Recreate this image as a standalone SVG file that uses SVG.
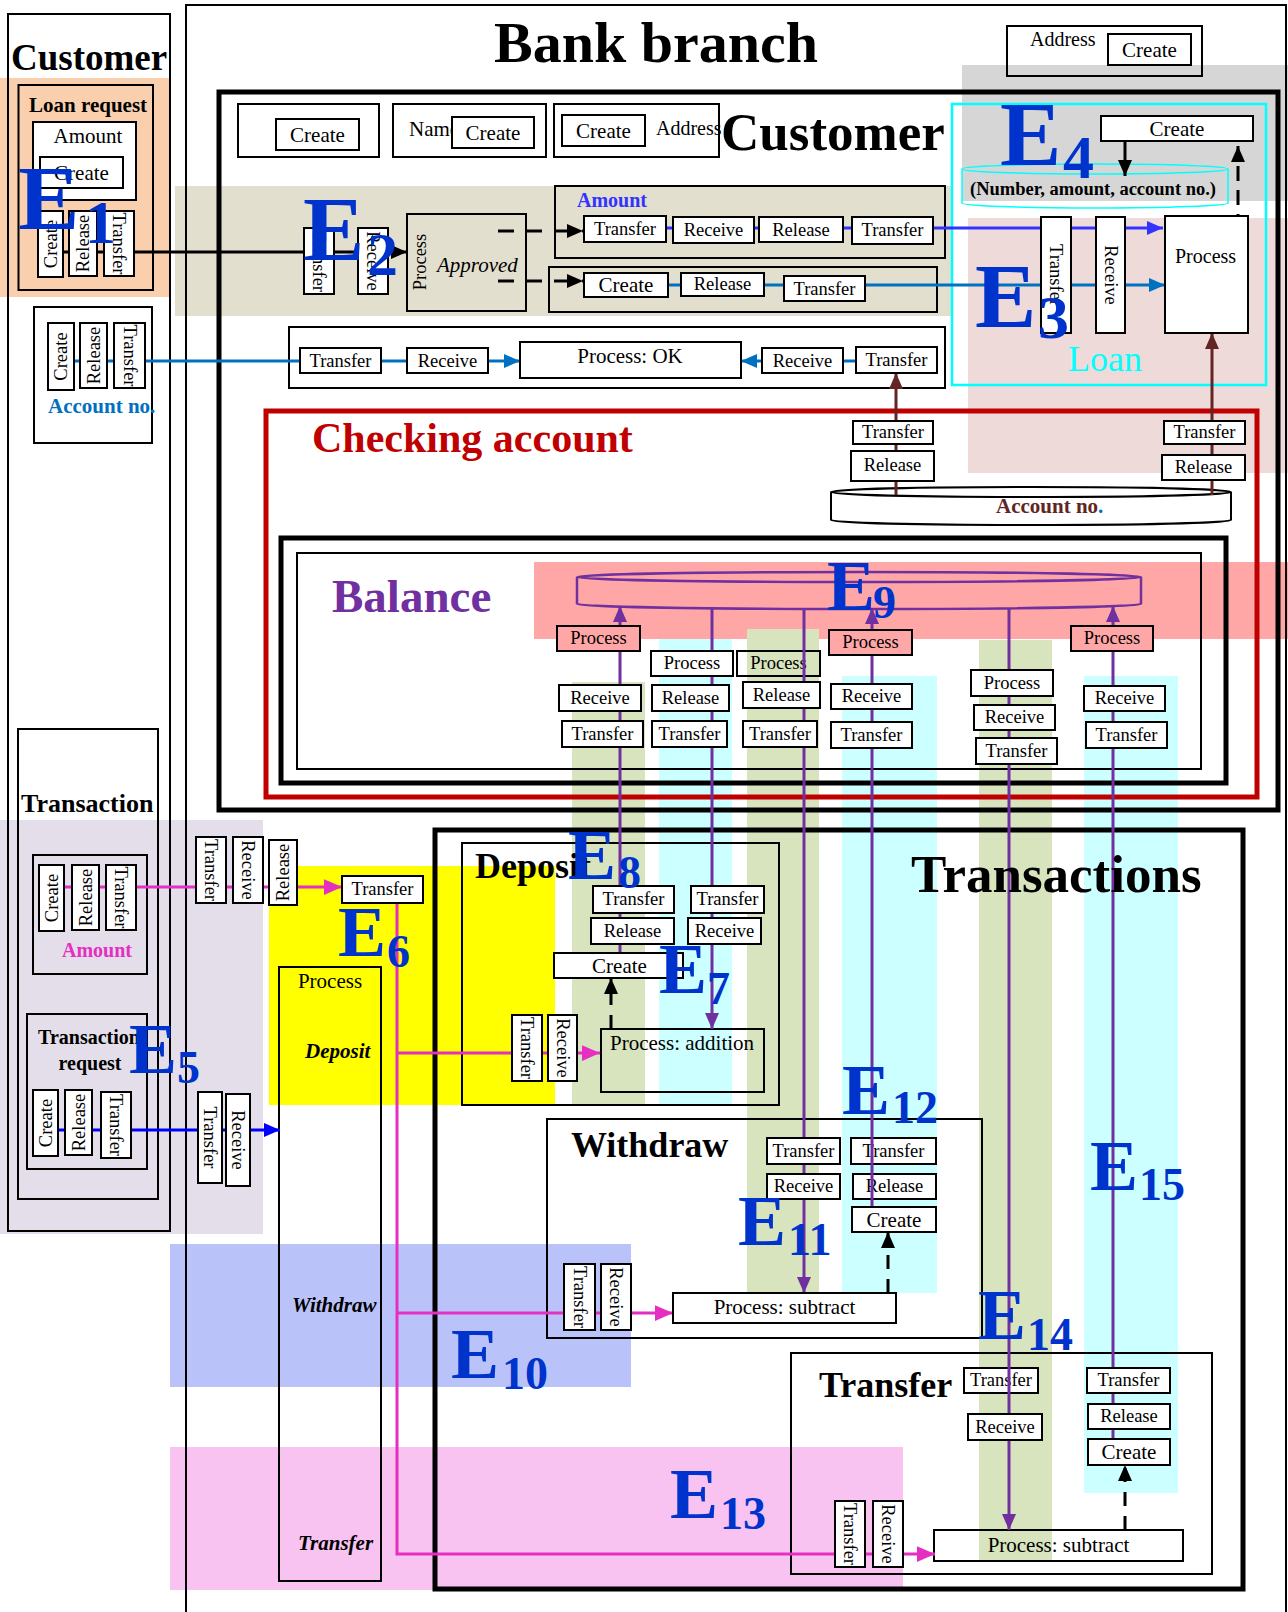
<svg xmlns="http://www.w3.org/2000/svg" width="1288" height="1612" viewBox="0 0 1288 1612">
<style>
.b{fill:#fff;stroke:#000;stroke-width:2}
.n{fill:none;stroke:#000;stroke-width:2}
.t{font-family:"Liberation Serif","Times New Roman",serif;fill:#000}
.c{text-anchor:middle}
.f18{font-size:18.5px}
.f20{font-size:20px}
.f21{font-size:21px}
.bd{font-weight:bold}
.it{font-style:italic}
.E{font-family:"Liberation Serif","Times New Roman",serif;font-weight:bold;fill:#0033CC}
.ln{fill:none;stroke-width:3}
.pk{fill:#FFA7A7;stroke:#000;stroke-width:2}
</style>
<defs>
<marker id="aK" viewBox="0 0 16 14" refX="16" refY="7" markerWidth="16" markerHeight="14" markerUnits="userSpaceOnUse" orient="auto"><path d="M0,0L16,7L0,14z" fill="#000"/></marker>
<marker id="aB" viewBox="0 0 16 14" refX="16" refY="7" markerWidth="16" markerHeight="14" markerUnits="userSpaceOnUse" orient="auto"><path d="M0,0L16,7L0,14z" fill="#3333FF"/></marker>
<marker id="aC" viewBox="0 0 16 14" refX="16" refY="7" markerWidth="16" markerHeight="14" markerUnits="userSpaceOnUse" orient="auto"><path d="M0,0L16,7L0,14z" fill="#0070C0"/></marker>
<marker id="aR" viewBox="0 0 16 14" refX="16" refY="7" markerWidth="16" markerHeight="14" markerUnits="userSpaceOnUse" orient="auto"><path d="M0,0L16,7L0,14z" fill="#632523"/></marker>
<marker id="aP" viewBox="0 0 16 14" refX="16" refY="7" markerWidth="16" markerHeight="14" markerUnits="userSpaceOnUse" orient="auto"><path d="M0,0L16,7L0,14z" fill="#7030A0"/></marker>
<marker id="aM" viewBox="0 0 16 14" refX="16" refY="7" markerWidth="18" markerHeight="16" markerUnits="userSpaceOnUse" orient="auto"><path d="M0,0L16,7L0,14z" fill="#E52FC2"/></marker>
<marker id="aU" viewBox="0 0 16 14" refX="16" refY="7" markerWidth="16" markerHeight="14" markerUnits="userSpaceOnUse" orient="auto"><path d="M0,0L16,7L0,14z" fill="#0000FF"/></marker>
</defs>
<rect width="1288" height="1612" fill="#fff"/>

<g id="backgrounds">
<rect x="0" y="78" width="170" height="219" fill="#F9CFAE"/>
<rect x="175" y="186" width="777" height="130" fill="#E2DFCE"/>
<rect x="962" y="65" width="326" height="136" fill="#D6D6D6"/>
<rect x="968" y="218" width="320" height="255" fill="#EEDAD9"/>
<rect x="534" y="562" width="754" height="77" fill="#FFA7A7"/>
<rect x="572" y="682" width="73" height="423" fill="#D7E4BD"/>
<rect x="659" y="639" width="73" height="466" fill="#CCFFFF"/>
<rect x="747" y="629" width="72" height="664" fill="#D7E4BD"/>
<rect x="842" y="676" width="95" height="617" fill="#CCFFFF"/>
<rect x="979" y="640" width="73" height="920" fill="#D7E4BD"/>
<rect x="1084" y="676" width="94" height="817" fill="#CCFFFF"/>
<rect x="0" y="820" width="263" height="414" fill="#E3DEE9"/>
<rect x="269" y="866" width="286" height="239" fill="#FFFF00"/>
<rect x="170" y="1244" width="461" height="143" fill="#BAC3F9"/>
<rect x="170" y="1447" width="733" height="143" fill="#F8C2F1"/>
</g>

<g id="frames">
<rect class="n" x="8" y="14" width="162" height="1217"/>
<rect class="n" x="186" y="5" width="1100" height="1620"/>
<rect class="n" x="18.5" y="85" width="134.5" height="205"/>
<rect class="n" x="34" y="307" width="118" height="136"/>
<rect class="n" x="219" y="92" width="1059" height="718" style="stroke-width:5"/>
<rect class="n" x="238" y="104" width="141" height="53"/>
<rect class="n" x="393" y="104" width="153" height="53"/>
<rect class="n" x="554" y="104" width="165" height="53"/>
<rect class="n" x="1007" y="26" width="195" height="50"/>
<rect class="n" x="555" y="186" width="390" height="72"/>
<rect class="n" x="549" y="267" width="388" height="45"/>
<rect class="n" x="289" y="327" width="656" height="61"/>
<rect class="n" x="407" y="214" width="119" height="97"/>
<rect x="952" y="104" width="314" height="281" fill="none" stroke="#00FFFF" stroke-width="2.5"/>
<rect x="266" y="411" width="991" height="386" fill="none" stroke="#C00000" stroke-width="5"/>
<rect class="n" x="281" y="538" width="945" height="245" style="stroke-width:5"/>
<rect class="n" x="297" y="553" width="904" height="216"/>
<rect class="n" x="18" y="729" width="140" height="470"/>
<rect class="n" x="33" y="855" width="114" height="119"/>
<rect class="n" x="27" y="1014" width="120" height="155"/>
<rect class="n" x="435" y="830" width="808" height="759" style="stroke-width:5"/>
<rect class="n" x="462" y="843" width="317" height="262"/>
<rect class="n" x="547" y="1119" width="435" height="219"/>
<rect class="n" x="791" y="1353" width="421" height="221"/>
<rect class="n" x="279" y="967" width="102" height="614"/>
<rect class="n" x="601" y="1029" width="163" height="63"/>
<rect class="n" x="934" y="1530" width="249" height="31"/>
<path d="M962,169A133,5 0 0 1 1228,169A133,5 0 0 1 962,169ZM962,169V203A133,5 0 0 0 1228,203V169" fill="none" stroke="#00FFFF" stroke-width="1.5"/>
<path d="M577,577A282,5 0 0 1 1141,577A282,5 0 0 1 577,577ZM577,577V604A282,5 0 0 0 1141,604V577" fill="none" stroke="#7030A0" stroke-width="2.5"/>
<path d="M831,492V520A200,5 0 0 0 1231,520V492" fill="#fff" stroke="#000" stroke-width="2"/>
<ellipse cx="1031" cy="492" rx="200" ry="5" fill="#fff" stroke="#000" stroke-width="2"/>
</g>

<g id="nodes-under">
<g id="balC-process"><rect class="n" x="737" y="651" width="83" height="25"/><text class="t f18 c" x="778.5" y="669">Process</text></g>
<g id="wdr-transfer2"><rect class="b" x="851" y="1138" width="85" height="26"/><text class="t f18 c" x="893.5" y="1157">Transfer</text></g>
<g id="wdr-release"><rect class="b" x="853" y="1174" width="83" height="25"/><text class="t f18 c" x="894.5" y="1192">Release</text></g>
<g id="trf-transfer1"><rect class="b" x="964" y="1368" width="74" height="25"/><text class="t f18 c" x="1001" y="1386">Transfer</text></g>
</g>

<g id="connectors">
<path class="ln" d="M63,252H407" stroke="#000" stroke-width="3.5" marker-end="url(#aK)"/>
<path class="ln" d="M74,361H520" stroke="#0070C0" marker-end="url(#aC)"/>
<path class="ln" d="M856,361H741" stroke="#0070C0" marker-end="url(#aC)"/>
<path class="ln" d="M584,228H1163" stroke="#3333FF" marker-end="url(#aB)"/>
<path class="ln" d="M584,285H1165" stroke="#0070C0" marker-end="url(#aC)"/>
<path class="ln" d="M498,231H583" stroke="#000" stroke-width="4" stroke-dasharray="16 12" marker-end="url(#aK)"/>
<path class="ln" d="M498,281H583" stroke="#000" stroke-width="4" stroke-dasharray="16 12" marker-end="url(#aK)"/>
<path class="ln" d="M1125,141V176" stroke="#000" marker-end="url(#aK)"/>
<path class="ln" d="M1238,253V146" stroke="#000" stroke-width="4" stroke-dasharray="15 9" marker-end="url(#aK)"/>
<path class="ln" d="M896,495V373" stroke="#632523" stroke-width="3.5" marker-end="url(#aR)"/>
<path class="ln" d="M1212,495V333" stroke="#632523" stroke-width="3.5" marker-end="url(#aR)"/>
<path class="ln" d="M620,953V606" stroke="#7030A0" marker-end="url(#aP)"/>
<path class="ln" d="M712,609V1029" stroke="#7030A0" marker-end="url(#aP)"/>
<path class="ln" d="M804,609V1293" stroke="#7030A0" marker-end="url(#aP)"/>
<path class="ln" d="M872,1207V608" stroke="#7030A0" marker-end="url(#aP)"/>
<path class="ln" d="M1009,609V1530" stroke="#7030A0" marker-end="url(#aP)"/>
<path class="ln" d="M1113,1439V606" stroke="#7030A0" marker-end="url(#aP)"/>
<path class="ln" d="M64,887H342" stroke="#E52FC2" stroke-width="4" marker-end="url(#aM)"/>
<path class="ln" d="M397,903V1554H935" stroke="#E52FC2" stroke-width="4" marker-end="url(#aM)"/>
<path class="ln" d="M397,1053H600" stroke="#E52FC2" stroke-width="4" marker-end="url(#aM)"/>
<path class="ln" d="M397,1313H673" stroke="#E52FC2" stroke-width="4" marker-end="url(#aM)"/>
<path class="ln" d="M58,1130H280" stroke="#0000FF" marker-end="url(#aU)"/>
<path class="ln" d="M611,1029V978" stroke="#000" stroke-width="4" stroke-dasharray="14 10" marker-end="url(#aK)"/>
<path class="ln" d="M888,1293V1232" stroke="#000" stroke-width="4" stroke-dasharray="14 10" marker-end="url(#aK)"/>
<path class="ln" d="M1125,1530V1465" stroke="#000" stroke-width="4" stroke-dasharray="14 10" marker-end="url(#aK)"/>
</g>

<g id="titles">
<text class="t bd" x="11" y="70" style="font-size:37px">Customer</text>
<text class="t bd" x="494" y="62" style="font-size:58px">Bank branch</text>
<text class="t bd f21" x="29" y="112">Loan request</text>
<text class="t bd f21" x="48" y="413" fill="#0070C0" style="fill:#0070C0">Account no.</text>
<text class="t f21" x="409" y="136">Name</text>
<text class="t f20" x="656" y="135">Address</text>
<text class="t bd" x="721" y="150" style="font-size:53px">Customer</text>
<text class="t f20" x="1030" y="46">Address</text>
<text class="t bd f20" x="577" y="207" style="fill:#3333FF">Amount</text>
<text class="t it f21" x="437" y="272">Approved</text>
<text class="t f18 c" transform="translate(420,262) rotate(-90)" y="6">Process</text>
<text class="t bd" x="970" y="195" style="font-size:18.5px">(Number, amount, account no.)</text>
<text class="t" x="1068" y="371" style="font-size:36px;fill:#00FFFF">Loan</text>
<text class="t bd" x="312" y="452" style="font-size:42px;fill:#C00000">Checking account</text>
<text class="t bd f21" x="996" y="513" style="fill:#632523">Account no<tspan style="fill:#0070C0">.</tspan></text>
<text class="t bd" x="332" y="612" style="font-size:47px;fill:#7030A0">Balance</text>
<text class="t bd" x="21" y="812" style="font-size:26px">Transaction</text>
<text class="t bd f20" x="62" y="957" style="fill:#E52FC2">Amount</text>
<text class="t bd f20 c" x="89" y="1044">Transaction</text>
<text class="t bd f20 c" x="90" y="1070">request</text>
<text class="t bd" x="911" y="892" style="font-size:53px">Transactions</text>
<text class="t bd" x="475" y="878" style="font-size:36px">Deposit</text>
<text class="t bd" x="571" y="1157" style="font-size:36px">Withdraw</text>
<text class="t bd" x="819" y="1397" style="font-size:36px">Transfer</text>
<text class="t f21 c" x="330" y="988">Process</text>
<text class="t bd it f21" x="305" y="1058">Deposit</text>
<text class="t bd it f21" x="292" y="1312">Withdraw</text>
<text class="t bd it f21" x="298" y="1550">Transfer</text>
<text class="t f21" x="610" y="1050">Process: addition</text>
<text class="t f21 c" x="1058.5" y="1552">Process: subtract</text>
</g>

<g id="nodes">
<g id="lr-amount"><rect class="b" x="33" y="122" width="103" height="78"/><text class="t f21 c" x="88" y="143">Amount</text></g>
<g id="lr-create"><rect class="b" x="40" y="157" width="83" height="31"/><text class="t f21 c" x="81.5" y="180">Create</text></g>
<g id="lr-v-create"><rect class="b" x="38" y="211" width="25" height="66"/><text class="t f18 c" transform="translate(50.5,244) rotate(-90)" y="6">Create</text></g>
<g id="lr-v-release"><rect class="b" x="69" y="211" width="28" height="65"/><text class="t f18 c" transform="translate(83,243.5) rotate(-90)" y="6">Release</text></g>
<g id="lr-v-transfer"><rect class="b" x="104" y="211" width="30" height="65"/><text class="t f18 c" transform="translate(119,243.5) rotate(90)" y="6">Transfer</text></g>

<g id="an-create"><rect class="b" x="48" y="323" width="26" height="67"/><text class="t f18 c" transform="translate(61,356.5) rotate(-90)" y="6">Create</text></g>
<g id="an-release"><rect class="b" x="80" y="323" width="27" height="65"/><text class="t f18 c" transform="translate(93.5,355.5) rotate(-90)" y="6">Release</text></g>
<g id="an-transfer"><rect class="b" x="114" y="323" width="31" height="65"/><text class="t f18 c" transform="translate(129.5,355.5) rotate(90)" y="6">Transfer</text></g>

<g id="cu-create1"><rect class="b" x="276" y="119" width="83" height="31"/><text class="t f21 c" x="317.5" y="142">Create</text></g>
<g id="cu-create2"><rect class="b" x="452" y="117" width="82" height="31"/><text class="t f21 c" x="493" y="140">Create</text></g>
<g id="cu-create3"><rect class="b" x="562" y="115" width="83" height="31"/><text class="t f21 c" x="603.5" y="138">Create</text></g>
<g id="bb-create"><rect class="b" x="1108" y="34" width="83" height="31"/><text class="t f21 c" x="1149.5" y="57">Create</text></g>

<g id="e2-transfer"><rect class="b" x="304" y="228" width="30" height="66"/><text class="t f18 c" transform="translate(319,261) rotate(90)" y="6">Transfer</text></g>
<g id="e2-receive"><rect class="b" x="358" y="228" width="30" height="66"/><text class="t f18 c" transform="translate(373,261) rotate(90)" y="6">Receive</text></g>

<g id="am-transfer1"><rect class="b" x="584" y="216" width="82" height="26"/><text class="t f18 c" x="625" y="235">Transfer</text></g>
<g id="am-receive"><rect class="b" x="673" y="217" width="81" height="26"/><text class="t f18 c" x="713.5" y="236">Receive</text></g>
<g id="am-release"><rect class="b" x="759" y="217" width="84" height="25"/><text class="t f18 c" x="801" y="236">Release</text></g>
<g id="am-transfer2"><rect class="b" x="852" y="217" width="81" height="27"/><text class="t f18 c" x="892.5" y="236">Transfer</text></g>

<g id="cc-create"><rect class="b" x="584" y="273" width="84" height="24"/><text class="t f21 c" x="626" y="292">Create</text></g>
<g id="cc-release"><rect class="b" x="681" y="273" width="83" height="23"/><text class="t f18 c" x="722.5" y="290">Release</text></g>
<g id="cc-transfer"><rect class="b" x="784" y="276" width="81" height="25"/><text class="t f18 c" x="824.5" y="295">Transfer</text></g>

<g id="ok-transfer1"><rect class="b" x="300" y="348" width="81" height="25"/><text class="t f18 c" x="340.5" y="367">Transfer</text></g>
<g id="ok-receive1"><rect class="b" x="407" y="348" width="81" height="25"/><text class="t f18 c" x="447.5" y="367">Receive</text></g>
<g id="ok-process"><rect class="b" x="520" y="342" width="221" height="36"/><text class="t f21 c" x="630" y="363">Process: OK</text></g>
<g id="ok-receive2"><rect class="b" x="762" y="348" width="81" height="25"/><text class="t f18 c" x="802.5" y="367">Receive</text></g>
<g id="ok-transfer2"><rect class="b" x="856" y="347" width="81" height="26"/><text class="t f18 c" x="896.5" y="366">Transfer</text></g>

<g id="ln-create"><rect class="b" x="1101" y="116" width="152" height="25"/><text class="t f21 c" x="1177" y="136">Create</text></g>
<g id="ln-transfer"><rect class="b" x="1041" y="217" width="30" height="116"/><text class="t f18 c" transform="translate(1056,275) rotate(90)" y="6">Transfer</text></g>
<g id="ln-receive"><rect class="b" x="1096" y="217" width="29" height="116"/><text class="t f18 c" transform="translate(1110.5,275) rotate(90)" y="6">Receive</text></g>
<g id="ln-process"><rect class="b" x="1165" y="216" width="83" height="117"/><text class="t f20" x="1175" y="263">Process</text></g>

<g id="ck-transfer1"><rect class="b" x="853" y="421" width="80" height="23"/><text class="t f18 c" x="893" y="438">Transfer</text></g>
<g id="ck-release1"><rect class="b" x="851" y="451" width="83" height="30"/><text class="t f18 c" x="892.5" y="471">Release</text></g>
<g id="ck-transfer2"><rect class="b" x="1164" y="421" width="81" height="23"/><text class="t f18 c" x="1204.5" y="438">Transfer</text></g>
<g id="ck-release2"><rect class="b" x="1162" y="455" width="83" height="25"/><text class="t f18 c" x="1203.5" y="473">Release</text></g>

<g id="balA-process"><rect class="pk" x="557" y="626" width="83" height="25"/><text class="t f18 c" x="598.5" y="644">Process</text></g>
<g id="balA-receive"><rect class="b" x="559" y="685" width="82" height="26"/><text class="t f18 c" x="600" y="704">Receive</text></g>
<g id="balA-transfer"><rect class="b" x="562" y="721" width="81" height="26"/><text class="t f18 c" x="602.5" y="740">Transfer</text></g>
<g id="balB-process"><rect class="b" x="651" y="651" width="82" height="25"/><text class="t f18 c" x="692" y="669">Process</text></g>
<g id="balB-release"><rect class="b" x="652" y="685" width="77" height="26"/><text class="t f18 c" x="690.5" y="704">Release</text></g>
<g id="balB-transfer"><rect class="b" x="652" y="721" width="75" height="26"/><text class="t f18 c" x="689.5" y="740">Transfer</text></g>
<g id="balC-release"><rect class="b" x="743" y="682" width="77" height="26"/><text class="t f18 c" x="781.5" y="701">Release</text></g>
<g id="balC-transfer"><rect class="b" x="743" y="721" width="74" height="26"/><text class="t f18 c" x="780" y="740">Transfer</text></g>
<g id="balD-process"><rect class="pk" x="829" y="630" width="83" height="25"/><text class="t f18 c" x="870.5" y="648">Process</text></g>
<g id="balD-receive"><rect class="b" x="831" y="684" width="81" height="25"/><text class="t f18 c" x="871.5" y="702">Receive</text></g>
<g id="balD-transfer"><rect class="b" x="831" y="722" width="81" height="26"/><text class="t f18 c" x="871.5" y="741">Transfer</text></g>
<g id="balE-process"><rect class="b" x="971" y="670" width="82" height="26"/><text class="t f18 c" x="1012" y="689">Process</text></g>
<g id="balE-receive"><rect class="b" x="974" y="705" width="81" height="25"/><text class="t f18 c" x="1014.5" y="723">Receive</text></g>
<g id="balE-transfer"><rect class="b" x="976" y="738" width="81" height="26"/><text class="t f18 c" x="1016.5" y="757">Transfer</text></g>
<g id="balF-process"><rect class="pk" x="1071" y="626" width="82" height="25"/><text class="t f18 c" x="1112" y="644">Process</text></g>
<g id="balF-receive"><rect class="b" x="1084" y="686" width="81" height="25"/><text class="t f18 c" x="1124.5" y="704">Receive</text></g>
<g id="balF-transfer"><rect class="b" x="1086" y="722" width="81" height="26"/><text class="t f18 c" x="1126.5" y="741">Transfer</text></g>

<g id="ta-create"><rect class="b" x="39" y="865" width="25" height="66"/><text class="t f18 c" transform="translate(51.5,898) rotate(-90)" y="6">Create</text></g>
<g id="ta-release"><rect class="b" x="72" y="865" width="27" height="65"/><text class="t f18 c" transform="translate(85.5,897.5) rotate(-90)" y="6">Release</text></g>
<g id="ta-transfer"><rect class="b" x="106" y="865" width="30" height="65"/><text class="t f18 c" transform="translate(121,897.5) rotate(90)" y="6">Transfer</text></g>
<g id="tr-create"><rect class="b" x="33" y="1090" width="25" height="66"/><text class="t f18 c" transform="translate(45.5,1123) rotate(-90)" y="6">Create</text></g>
<g id="tr-release"><rect class="b" x="65" y="1090" width="27" height="65"/><text class="t f18 c" transform="translate(78.5,1122.5) rotate(-90)" y="6">Release</text></g>
<g id="tr-transfer"><rect class="b" x="101" y="1092" width="30" height="66"/><text class="t f18 c" transform="translate(116,1125) rotate(90)" y="6">Transfer</text></g>
<g id="e6-v-transfer"><rect class="b" x="196" y="837" width="30" height="66"/><text class="t f18 c" transform="translate(211,870) rotate(90)" y="6">Transfer</text></g>
<g id="e6-v-receive"><rect class="b" x="233" y="837" width="30" height="66"/><text class="t f18 c" transform="translate(248,870) rotate(90)" y="6">Receive</text></g>
<g id="e6-v-release"><rect class="b" x="269" y="840" width="28" height="65"/><text class="t f18 c" transform="translate(283,872.5) rotate(-90)" y="6">Release</text></g>
<g id="e5-v-transfer"><rect class="b" x="198" y="1092" width="24" height="91"/><text class="t f18 c" transform="translate(210,1137.5) rotate(90)" y="6">Transfer</text></g>
<g id="e5-v-receive"><rect class="b" x="226" y="1094" width="24" height="92"/><text class="t f18 c" transform="translate(238,1140) rotate(90)" y="6">Receive</text></g>
<g id="e6-transfer"><rect class="b" x="342" y="876" width="81" height="27"/><text class="t f18 c" x="382.5" y="895">Transfer</text></g>

<g id="dep-transfer1"><rect class="b" x="593" y="886" width="81" height="27"/><text class="t f18 c" x="633.5" y="905">Transfer</text></g>
<g id="dep-release"><rect class="b" x="591" y="918" width="83" height="26"/><text class="t f18 c" x="632.5" y="937">Release</text></g>
<g id="dep-transfer2"><rect class="b" x="691" y="886" width="73" height="27"/><text class="t f18 c" x="727.5" y="905">Transfer</text></g>
<g id="dep-receive"><rect class="b" x="688" y="918" width="73" height="26"/><text class="t f18 c" x="724.5" y="937">Receive</text></g>
<g id="dep-create"><rect class="b" x="554" y="953" width="129" height="25"/><text class="t f21 c" x="619.5" y="973">Create</text></g>
<g id="dep-v-transfer"><rect class="b" x="512" y="1015" width="30" height="66"/><text class="t f18 c" transform="translate(527,1048) rotate(90)" y="6">Transfer</text></g>
<g id="dep-v-receive"><rect class="b" x="548" y="1015" width="29" height="66"/><text class="t f18 c" transform="translate(562.5,1048) rotate(90)" y="6">Receive</text></g>

<g id="wdr-transfer1"><rect class="b" x="767" y="1138" width="73" height="26"/><text class="t f18 c" x="803.5" y="1157">Transfer</text></g>
<g id="wdr-receive"><rect class="b" x="767" y="1174" width="73" height="25"/><text class="t f18 c" x="803.5" y="1192">Receive</text></g>
<g id="wdr-create"><rect class="b" x="852" y="1207" width="84" height="25"/><text class="t f21 c" x="894" y="1227">Create</text></g>
<g id="wdr-v-transfer"><rect class="b" x="564" y="1264" width="31" height="66"/><text class="t f18 c" transform="translate(579.5,1297) rotate(90)" y="6">Transfer</text></g>
<g id="wdr-v-receive"><rect class="b" x="601" y="1264" width="30" height="66"/><text class="t f18 c" transform="translate(616,1297) rotate(90)" y="6">Receive</text></g>
<g id="wdr-process"><rect class="b" x="673" y="1293" width="223" height="30"/><text class="t f21 c" x="784.5" y="1314">Process: subtract</text></g>

<g id="trf-receive"><rect class="b" x="968" y="1414" width="74" height="26"/><text class="t f18 c" x="1005" y="1433">Receive</text></g>
<g id="trf-transfer2"><rect class="b" x="1087" y="1368" width="83" height="25"/><text class="t f18 c" x="1128.5" y="1386">Transfer</text></g>
<g id="trf-release"><rect class="b" x="1088" y="1404" width="82" height="25"/><text class="t f18 c" x="1129" y="1422">Release</text></g>
<g id="trf-create"><rect class="b" x="1088" y="1439" width="82" height="26"/><text class="t f21 c" x="1129" y="1459">Create</text></g>
<g id="trf-v-transfer"><rect class="b" x="835" y="1501" width="30" height="66"/><text class="t f18 c" transform="translate(850,1534) rotate(90)" y="6">Transfer</text></g>
<g id="trf-v-receive"><rect class="b" x="873" y="1501" width="30" height="66"/><text class="t f18 c" transform="translate(888,1534) rotate(90)" y="6">Receive</text></g>
</g>

<g id="e-labels">
<text class="E"><tspan x="18" y="229" font-size="92">E</tspan><tspan x="85" y="243" font-size="62">1</tspan></text>
<text class="E"><tspan x="303" y="260" font-size="92">E</tspan><tspan x="367" y="275" font-size="62">2</tspan></text>
<text class="E"><tspan x="975" y="327" font-size="92">E</tspan><tspan x="1038" y="338" font-size="62">3</tspan></text>
<text class="E"><tspan x="1000" y="165" font-size="92">E</tspan><tspan x="1063" y="178" font-size="62">4</tspan></text>
<text class="E"><tspan x="129" y="1073" font-size="72">E</tspan><tspan x="177" y="1083" font-size="46">5</tspan></text>
<text class="E"><tspan x="338" y="956" font-size="72">E</tspan><tspan x="387" y="967" font-size="46">6</tspan></text>
<text class="E"><tspan x="659" y="993" font-size="72">E</tspan><tspan x="707" y="1004" font-size="46">7</tspan></text>
<text class="E"><tspan x="568" y="879" font-size="72">E</tspan><tspan x="618" y="888" font-size="46">8</tspan></text>
<text class="E"><tspan x="827" y="610" font-size="72">E</tspan><tspan x="873" y="618" font-size="46">9</tspan></text>
<text class="E"><tspan x="451" y="1378" font-size="72">E</tspan><tspan x="502" y="1389" font-size="46">10</tspan></text>
<text class="E"><tspan x="738" y="1245" font-size="72">E</tspan><tspan x="788" y="1255" font-size="46">11</tspan></text>
<text class="E"><tspan x="842" y="1114" font-size="72">E</tspan><tspan x="892" y="1123" font-size="46">12</tspan></text>
<text class="E"><tspan x="670" y="1518" font-size="72">E</tspan><tspan x="720" y="1529" font-size="46">13</tspan></text>
<text class="E"><tspan x="978" y="1339" font-size="72">E</tspan><tspan x="1027" y="1350" font-size="46">14</tspan></text>
<text class="E"><tspan x="1090" y="1190" font-size="72">E</tspan><tspan x="1139" y="1200" font-size="46">15</tspan></text>
</g>
</svg>
